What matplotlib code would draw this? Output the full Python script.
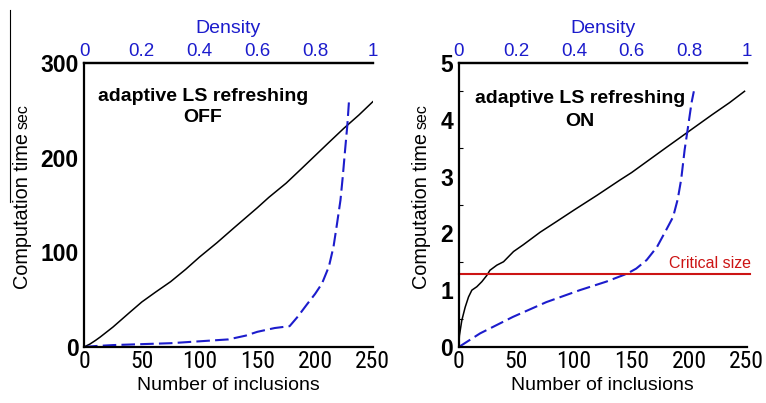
"""Computation time vs number of inclusions, adaptive LS refreshing OFF / ON."""
import matplotlib
matplotlib.use("Agg")
import matplotlib.pyplot as plt
from matplotlib.lines import Line2D
from matplotlib.ticker import MultipleLocator

plt.rcParams["font.family"] = ["Liberation Sans", "DejaVu Sans"]

# left panel: refreshing OFF (seconds)
off_time_n = [0, 5, 10, 14, 25, 40, 50, 62, 75, 88, 100, 115, 130, 150, 160, 170, 175,
              188, 200, 212, 225, 238, 250]
off_time = [0, 3, 7, 10.5, 21, 37, 47.5, 58, 69, 82, 95, 110, 126, 147, 158, 168, 173,
            188, 202, 216, 231, 245, 259]
off_dens_n = [0, 10, 25, 50, 75, 100, 125, 140, 150, 165, 178, 185, 193, 200, 206, 212,
              216, 219, 222, 224, 226, 228, 229.5]
off_dens = [0, 1, 2, 3, 4, 6, 8, 12, 16, 20, 22, 32, 45, 56, 67, 85, 106, 130, 155, 180,
            208, 235, 262]

# right panel: refreshing ON (seconds)
on_time_n = [0, 0.5, 2.6, 5.5, 8.4, 11.3, 15.6, 20, 24.3, 27, 33, 38.8, 47.5, 56, 70.6,
             85, 100, 120, 140, 150, 165, 180, 200, 220, 235, 248]
on_time = [0.05, 0.2, 0.47, 0.7, 0.88, 1.0, 1.06, 1.15, 1.26, 1.35, 1.44, 1.5, 1.68,
           1.8, 2.02, 2.21, 2.41, 2.67, 2.94, 3.07, 3.29, 3.51, 3.8, 4.09, 4.3, 4.5]
on_dens_n = [0, 18.5, 47, 76, 105, 128, 146, 154, 163, 172, 180, 186, 190, 193, 196, 199,
             202, 204]
on_dens = [0, 0.24, 0.53, 0.79, 1.0, 1.15, 1.29, 1.38, 1.53, 1.76, 2.06, 2.29, 2.6, 2.95,
           3.47, 3.88, 4.3, 4.5]
critical_size = 1.28

x_ticks = [0, 50, 100, 150, 200, 250]
density_ticks = [0, 0.2, 0.4, 0.6, 0.8, 1]
density_labels = ["0", "0.2", "0.4", "0.6", "0.8", "1"]

BLUE = "#1c1ccc"
RED = "#cc1414"
NARROW = ["Liberation Sans Narrow", "Roboto Condensed", "Archivo Narrow", "Liberation Sans"]


def style_axes(ax, ymax, ystep, title_pos, state, label_x):
    ax.set_xlim(0, 250)
    ax.set_ylim(0, ymax)
    for side in ("left", "bottom", "top"):
        ax.spines[side].set_linewidth(1.6)
    ax.spines["right"].set_visible(False)

    ax.set_xticks(x_ticks)
    ax.set_xticklabels([str(t) for t in x_ticks], family=NARROW, fontsize=17)
    yt = list(range(0, ymax + 1, ystep))
    ax.set_yticks(yt)
    ax.set_yticklabels([str(t) for t in yt], fontweight="bold", fontsize=16.5)
    ax.tick_params(axis="x", length=0, pad=2)
    ax.tick_params(axis="y", length=0, pad=4)
    ax.set_xlabel("Number of inclusions", fontsize=14, labelpad=3)

    top = ax.secondary_xaxis("top", functions=(lambda n: n / 250, lambda d: d * 250))
    top.set_xticks(density_ticks)
    top.set_xticklabels(density_labels, color=BLUE, fontsize=13.5)
    top.tick_params(length=0, pad=2)
    top.spines["top"].set_linewidth(1.6)
    top.set_xlabel("Density", color=BLUE, fontsize=14, labelpad=7)

    # y label with smaller "sec" unit, sharing one baseline
    lab = ax.text(label_x, 0.204, "Computation time", transform=ax.transAxes, rotation=90,
                  rotation_mode="anchor", fontsize=14.3, ha="left", va="baseline")
    ax.annotate("sec", xy=(label_x, 1.0), xycoords=(ax.transAxes, lab),
                xytext=(0, 3), textcoords="offset points", rotation=90,
                rotation_mode="anchor", fontsize=11.5, ha="left", va="baseline")

    ax.text(title_pos[0], title_pos[1], "adaptive LS refreshing", fontsize=14,
            fontweight="bold", ha="center", va="center")
    ax.text(title_pos[0], title_pos[2], state, fontsize=14,
            fontweight="bold", ha="center", va="center")


fig = plt.figure(figsize=(7.66, 4.03), dpi=100)
ax1 = fig.add_axes([0.1097, 0.139, 0.377, 0.705])
ax2 = fig.add_axes([0.599, 0.139, 0.376, 0.705])

# OFF
ax1.plot(off_time_n, off_time, color="black", lw=1.1)
ax1.plot(off_dens_n, off_dens, color=BLUE, lw=1.5, dashes=(6.5, 2.5), clip_on=False)
style_axes(ax1, 300, 100, (103, 265, 242), "OFF", -0.195)

# ON
ax2.plot(on_time_n, on_time, color="black", lw=1.1)
ax2.plot(on_dens_n, on_dens, color=BLUE, lw=1.5, dashes=(6.5, 2.5), clip_on=False)
ax2.plot([0, 253], [critical_size, critical_size], color=RED, lw=1.5, clip_on=False)
ax2.text(253.5, critical_size + 0.06, "Critical size", color=RED, fontsize=11.5,
         ha="right", va="bottom")
style_axes(ax2, 5, 1, (105, 4.37, 3.97), "ON", -0.112)
ax2.yaxis.set_minor_locator(MultipleLocator(0.5))
ax2.tick_params(axis="y", which="minor", direction="in", length=3, width=0.8)

# stray vertical rule at the left edge of the scanned figure
fig.add_artist(Line2D([10 / 766, 10 / 766], [1 - 10 / 403, 1 - 202 / 403],
                      color="black", lw=0.8))

fig.savefig("out.png", dpi=100)
